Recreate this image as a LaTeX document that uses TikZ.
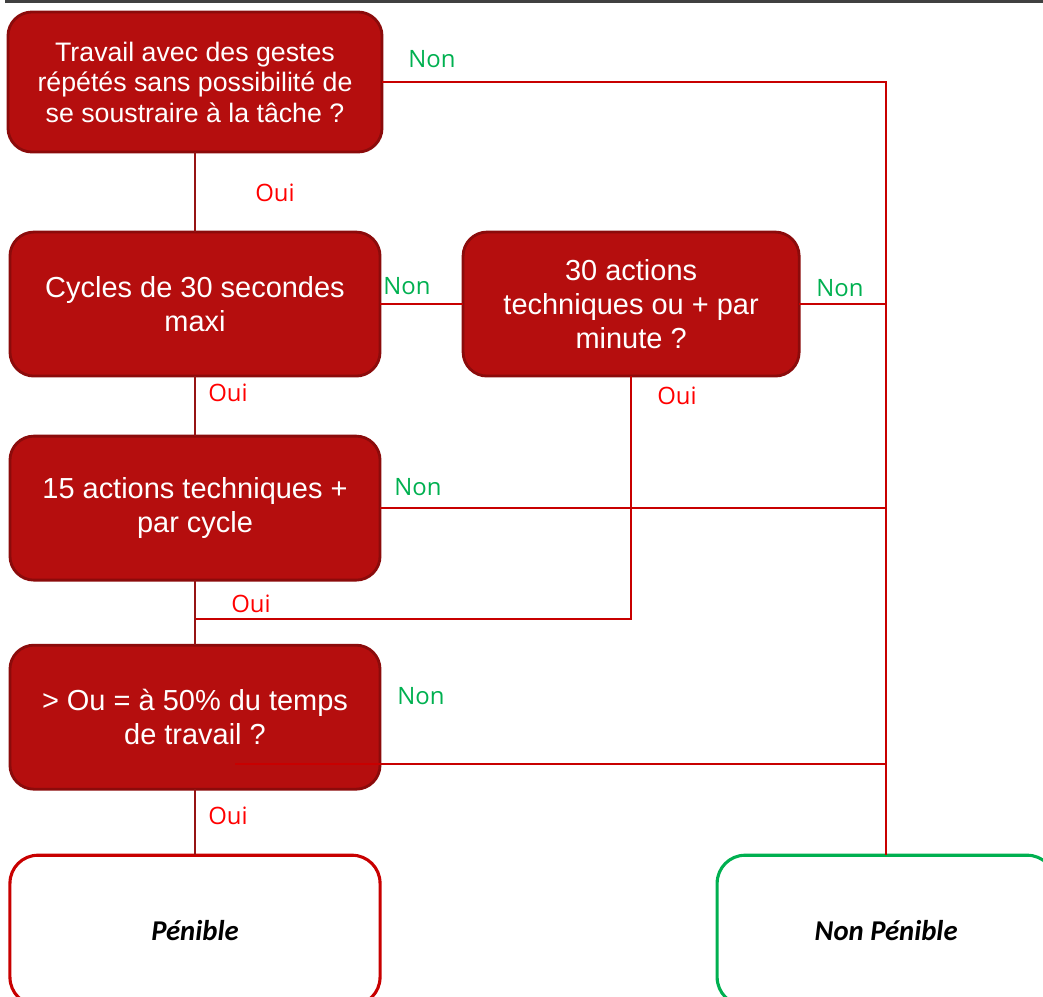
\documentclass[tikz,border=0pt]{standalone}
\usepackage{fontspec}
\setmainfont{Liberation Sans}
\newfontfamily\labelfont{Open Sans}
\newfontfamily\resultfont{Carlito}
\usepackage{tikz}
\usetikzlibrary{positioning}
\usetikzlibrary{calc}

\definecolor{boxred}{RGB}{181,14,14}
\definecolor{boxedge}{RGB}{139,11,11}
\definecolor{linered}{RGB}{200,0,0}
\definecolor{trunkred}{RGB}{150,20,20}
\definecolor{ouired}{RGB}{255,0,0}
\definecolor{nongreen}{RGB}{0,176,80}
\definecolor{topgray}{RGB}{64,64,64}

\tikzset{
	question/.style={rectangle, rounded corners=0.6cm, fill=boxred, draw=boxedge, line width=2pt,
		text=white, align=center, minimum width=9.25cm, minimum height=3.6cm, inner sep=2pt, outer sep=0pt,
		font=\fontsize{20.6}{24.2}\selectfont},
	result/.style={rectangle, rounded corners=0.7cm, fill=white, line width=2.2pt, outer sep=0pt,
		minimum height=3.75cm, font=\resultfont\bfseries\itshape\fontsize{20.4}{24}\selectfont},
	oui/.style={text=ouired, inner sep=0pt, font=\labelfont\fontsize{17}{20}\selectfont},
	non/.style={text=nongreen, inner sep=0pt, font=\labelfont\fontsize{17}{20}\selectfont},
	link/.style={draw=linered, line width=1.3pt},
	trunk/.style={draw=trunkred, line width=1.3pt}
}

\begin{document}
\begin{tikzpicture}[x=0.025cm, y=-0.025cm]
	\useasboundingbox (0,0) rectangle (1043,996);
	\draw [topgray, line width=2.2pt] (5,1.5) -- (1043,1.5);

	% Questions
	\node [question, minimum width=9.35cm, minimum height=3.5cm, font=\fontsize{19}{21.7}\selectfont] at (195,82) (q1) {Travail avec des gestes\\répétés sans possibilité de\\se soustraire à la tâche ?};
	\node [question, below=2cm of q1] (q2) {Cycles de 30 secondes\\maxi};
	\node [question, minimum width=8.4cm, right=2.075cm of q2] (q3) {30 actions\\techniques ou + par\\minute ?};
	\node [question, below=1.5cm of q2] (q4) {15 actions techniques +\\par cycle};
	\node [question, below=1.625cm of q4] (q5) {> Ou = à 50\% du temps\\de travail ?};

	% Results
	\node [result, draw=linered, minimum width=9.25cm, below=1.65cm of q5] (pen) {Pénible};
	\node [result, draw=nongreen, minimum width=8.45cm, right=8.425cm of pen] (npen) {Non Pénible};

	% Helpers
	\coordinate (join) at ($(q4.south)!0.6!(q5.north)$);
	\coordinate (q5start) at ([shift={(1cm,-1.175cm)}]q5.center);

	% Connections
	\draw [link] (q1.east) -| (npen.north);
	\draw [link] (q2.east) -- (q3.west);
	\draw [link] (q3.east) -- (q3.east -| npen.north);
	\draw [link] (q4.east) -- (q4.east -| npen.north);
	\draw [link] (q5start) -- (q5start -| npen.north);
	\draw [link] (q3.south) |- (join);
	\draw [trunk] (q1.south) -- (q2.north);
	\draw [trunk] (q2.south) -- (q4.north);
	\draw [trunk] (q4.south) -- (q5.north);
	\draw [trunk] (q5.south) -- (pen.north);

	% Labels
	\node [non] at (432,59) (n1) {Non};
	\node [oui] at (275,193) (o1) {Oui};
	\node [non] at (407,286) (n2) {Non};
	\node [non] at (840,288) (n3) {Non};
	\node [oui] at (228,393) (o2) {Oui};
	\node [oui] at (677,396) (o3) {Oui};
	\node [non] at (418,487) (n4) {Non};
	\node [oui] at (251,604) (o4) {Oui};
	\node [non] at (421,696) (n5) {Non};
	\node [oui] at (228,816) (o5) {Oui};
\end{tikzpicture}
\end{document}
